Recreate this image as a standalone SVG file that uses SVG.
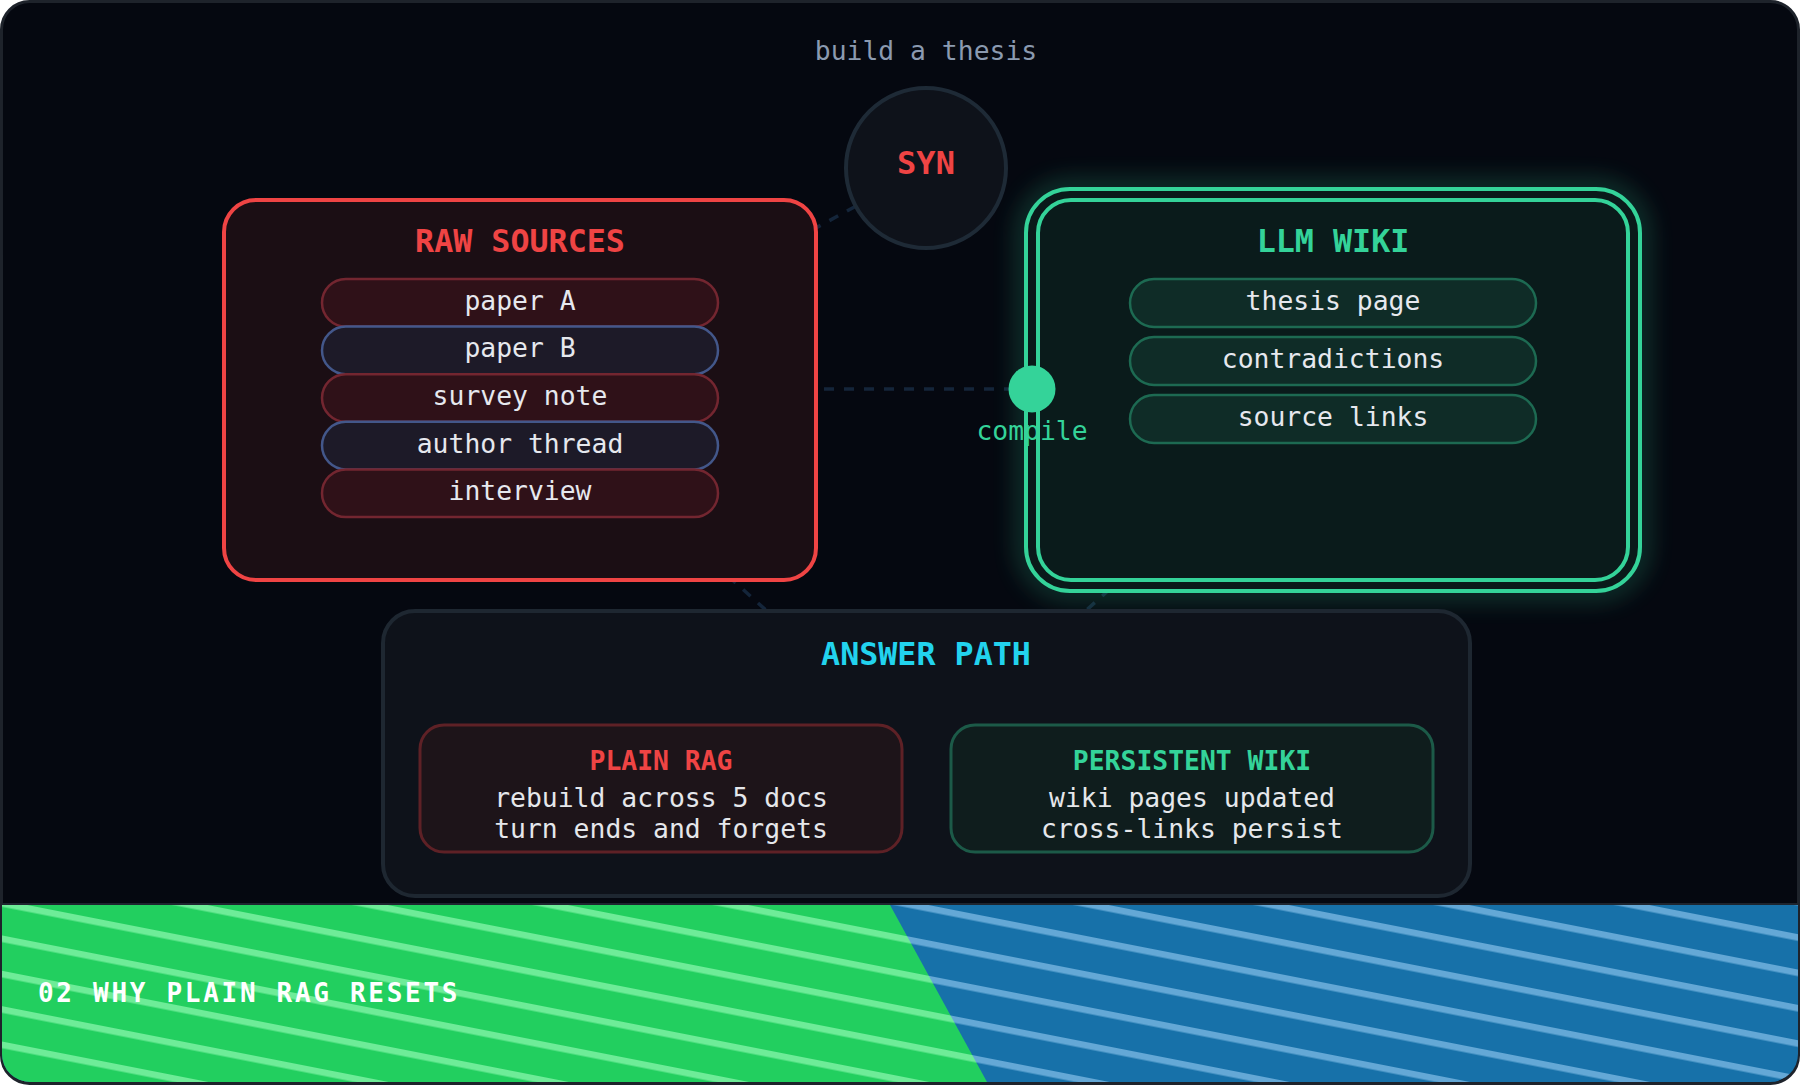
<svg xmlns="http://www.w3.org/2000/svg" width="1800" height="1085" viewBox="0 0 1800 1085">
<style>
text{font-family:"DejaVu Sans Mono","Liberation Mono",monospace;text-anchor:middle}
.ttl{font-weight:bold;font-size:31.7px}
.pill-t{font-size:26.4px;fill:#e6e8ee}
.body{font-size:26.4px;fill:#e5e7eb}
.sub{font-weight:bold;font-size:26.4px}
.conn{stroke:#14253a;stroke-width:3.5;stroke-dasharray:10 10;fill:none}
.rp{fill:#2f1118;stroke:#732630;stroke-width:2.5}
.bp{fill:#1d1a28;stroke:#43578a;stroke-width:2.5}
.wp{fill:#0f2c27;stroke:#1d6a52;stroke-width:2.5}
</style>
<defs>
<filter id="glow" x="-20%" y="-20%" width="140%" height="140%">
<feGaussianBlur stdDeviation="13"/>
</filter>
<clipPath id="bandClip">
<path d="M2,905 H1798 V1054 A28,28 0 0 1 1770,1082 H30 A28,28 0 0 1 2,1054 Z"/>
</clipPath>
<pattern id="stG" patternUnits="userSpaceOnUse" width="200" height="34.7" y="15.35" patternTransform="rotate(11.1)">
<rect width="200" height="34.7" fill="#22cf5f"/><rect width="200" height="6.5" fill="#6eec98"/>
</pattern>
<pattern id="stB" patternUnits="userSpaceOnUse" width="200" height="34.7" y="15.35" patternTransform="rotate(11.1)">
<rect width="200" height="34.7" fill="#1771a9"/><rect width="200" height="6.5" fill="#64a8d6"/>
</pattern>
</defs>

<rect x="1.5" y="1.5" width="1797" height="1082" rx="28" fill="#050810" stroke="#1e232b" stroke-width="3"/>

<g id="connectors">
<line class="conn" x1="926" y1="168" x2="520" y2="389"/>
<line class="conn" x1="520" y1="389" x2="1032" y2="389" stroke-dashoffset="-4"/>
<line class="conn" x1="520" y1="389" x2="926" y2="754"/>
<line class="conn" x1="1333" y1="389" x2="926" y2="754"/>
</g>

<g id="syn">
<text x="926" y="60" style="font-size:26.4px;fill:#8b9ab0">build a thesis</text>
<circle cx="926" cy="168" r="80" fill="#0e121a" stroke="#1e2a36" stroke-width="4"/>
<text x="926" y="174" style="font-size:32px;font-weight:bold;fill:#ef4444">SYN</text>
</g>

<g id="raw-sources">
<rect x="224" y="200" width="592" height="380" rx="32" fill="#1b0e14" stroke="#ef4444" stroke-width="4"/>
<text class="ttl" x="520" y="252" fill="#ef4444">RAW SOURCES</text>
<rect class="rp" x="322" y="279" width="396" height="47.6" rx="23.8"/>
<rect class="bp" x="322" y="326.6" width="396" height="47.6" rx="23.8"/>
<rect class="rp" x="322" y="374.2" width="396" height="47.6" rx="23.8"/>
<rect class="bp" x="322" y="421.8" width="396" height="47.6" rx="23.8"/>
<rect class="rp" x="322" y="469.4" width="396" height="47.6" rx="23.8"/>
<text class="pill-t" x="520" y="309.5">paper A</text>
<text class="pill-t" x="520" y="357.3">paper B</text>
<text class="pill-t" x="520" y="404.5">survey note</text>
<text class="pill-t" x="520" y="452.5">author thread</text>
<text class="pill-t" x="520" y="499.5">interview</text>
</g>

<g id="llm-wiki">
<rect x="1026" y="189" width="614" height="402" rx="44" fill="none" stroke="#34d399" stroke-width="9" opacity="0.5" filter="url(#glow)"/>
<rect x="1026" y="189" width="614" height="402" rx="44" fill="#0a1a1a" stroke="#34d399" stroke-width="4"/>
<rect x="1038" y="200" width="590" height="380" rx="33" fill="#0a1b1b" stroke="#34d399" stroke-width="4"/>
<text class="ttl" x="1333" y="252" fill="#34d399">LLM WIKI</text>
<rect class="wp" x="1130" y="279" width="406" height="48" rx="24"/>
<rect class="wp" x="1130" y="337" width="406" height="48" rx="24"/>
<rect class="wp" x="1130" y="395" width="406" height="48" rx="24"/>
<text class="pill-t" x="1333" y="309.5">thesis page</text>
<text class="pill-t" x="1333" y="367.5">contradictions</text>
<text class="pill-t" x="1333" y="425.5">source links</text>
</g>

<g id="compile-port">
<circle cx="1032" cy="389" r="23.5" fill="#34d399"/>
<text x="1032" y="440" style="font-size:26.4px;fill:#34d399">compile</text>
</g>

<g id="answer-path">
<rect x="383" y="611" width="1087" height="285" rx="32" fill="#0e121a" stroke="#1e2731" stroke-width="4"/>
<text class="ttl" x="926" y="665" fill="#22d3ee">ANSWER PATH</text>
<g id="plain-rag">
<rect x="420" y="725" width="482" height="127" rx="24" fill="#1d1419" stroke="#5e2126" stroke-width="3"/>
<text class="sub" x="661" y="770" fill="#ef4444">PLAIN RAG</text>
<text class="body" x="661" y="807">rebuild across 5 docs</text>
<text class="body" x="661" y="838">turn ends and forgets</text>
</g>
<g id="persistent-wiki">
<rect x="951" y="725" width="482" height="127" rx="24" fill="#0f1d1d" stroke="#1c5a48" stroke-width="3"/>
<text class="sub" x="1192" y="770" fill="#34d399">PERSISTENT WIKI</text>
<text class="body" x="1192" y="807">wiki pages updated</text>
<text class="body" x="1192" y="838">cross-links persist</text>
</g>
</g>

<g id="footer-band">
<g clip-path="url(#bandClip)">
<rect x="0" y="905" width="1800" height="180" fill="url(#stB)"/>
<polygon points="0,905 890,905 987,1082 0,1082" fill="url(#stG)"/>
</g>
<line x1="2" y1="904" x2="1798" y2="904" stroke="#1e252f" stroke-width="2"/>
<text x="38" y="1002" style="text-anchor:start;font-size:26px;font-weight:bold;fill:#ffffff;letter-spacing:2.7px">02 WHY PLAIN RAG RESETS</text>
</g>
</svg>
